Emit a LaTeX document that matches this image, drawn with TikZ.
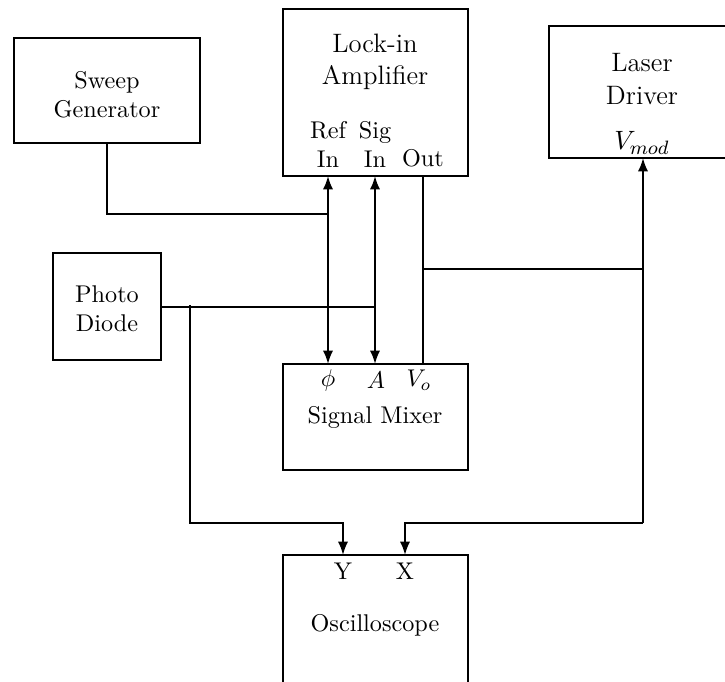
\documentclass[tikz,border=0pt]{standalone}
\usetikzlibrary{arrows.meta}
\begin{document}
\begin{tikzpicture}[x=0.413pt,y=-0.413pt,
  box/.style={draw,line width=0.8pt,rectangle,inner sep=0pt},
  lbl/.style={inner sep=0pt,align=center},
  big/.style={font=\fontsize{11}{13.4}\selectfont},
  wire/.style={line width=0.8pt},
  tip/.tip={Latex[length=5.5pt,width=4.2pt]},
  arr/.style={wire,-tip},
  darr/.style={wire,tip-tip}]
\useasboundingbox (0,0) rectangle (725,681);

% blocks
\node[box,minimum width=76.4pt,minimum height=69pt] (lockin) at (375.5,92.5) {};
\node[box,minimum width=76.8pt,minimum height=43.4pt] (sweep) at (107,90.5) {};
\node[box,minimum width=74pt,minimum height=54.5pt] (laser) at (638.5,92) {};
\node[box,minimum width=44.6pt,minimum height=44.2pt] (photo) at (107,306.5) {};
\node[box,minimum width=76.4pt,minimum height=43.8pt] (mixer) at (375.5,417) {};
\node[box,minimum width=76.4pt,minimum height=70pt] (scope) at (375.5,640) {};

% block texts
\node[lbl,big] (lockinT) at (375,62) {Lock-in\\Amplifier};
\node[lbl] (sweepT) at (107,95) {Sweep\\Generator};
\node[lbl,big] (laserT) at (642,79) {Laser\\Driver};
\node[lbl,big] (vmod) at (642,143) {$V_{mod}$};
\node[lbl] (photoT) at (107,309) {Photo\\Diode};
\node[lbl] (mixerT) at (375,417) {Signal Mixer};
\node[lbl] (scopeT) at (375,625) {Oscilloscope};

% port labels
\node[lbl] (refT) at (328,144) {Ref\\In};
\node[lbl] (sigT) at (375,144) {Sig\\In};
\node[lbl] (outT) at (423,158) {Out};
\node[lbl] (phiT) at (328,380) {$\phi$};
\node[lbl] (aT) at (376,380) {$A$};
\node[lbl] (voT) at (419,380) {$V_o$};
\node[lbl] (yT) at (343,571) {Y};
\node[lbl] (xT) at (405,571) {X};

% connection points
\coordinate (refU) at (328,176);
\coordinate (refD) at (328,364);
\coordinate (sigU) at (375,176);
\coordinate (sigD) at (375,364);
\coordinate (outU) at (423,176);
\coordinate (outD) at (423,364);
\coordinate (sweepB) at (107,143);
\coordinate (sweepJ) at (328,214);
\coordinate (photoR) at (161,307);
\coordinate (photoJ) at (375,307);
\coordinate (tapP) at (190,305);
\coordinate (yIn) at (343,555);
\coordinate (xIn) at (405,555);
\coordinate (outJ) at (423,269);
\coordinate (vmodIn) at (643,158);
\coordinate (laserJ) at (643,269);
\coordinate (xBus) at (643,523);

% wiring
\draw[darr] (refU) -- (refD);
\draw[darr] (sigU) -- (sigD);
\draw[wire] (outU) -- (outD);
\draw[wire] (sweepB) |- (sweepJ);
\draw[wire] (photoR) -- (photoJ);
\draw[wire] (outJ) -- (laserJ);
\draw[arr] (tapP) |- (343,523) -- (yIn);
\draw[arr] (xBus) -- (vmodIn);
\draw[arr] (xBus) -- (405,523) -- (xIn);
\end{tikzpicture}
\end{document}
